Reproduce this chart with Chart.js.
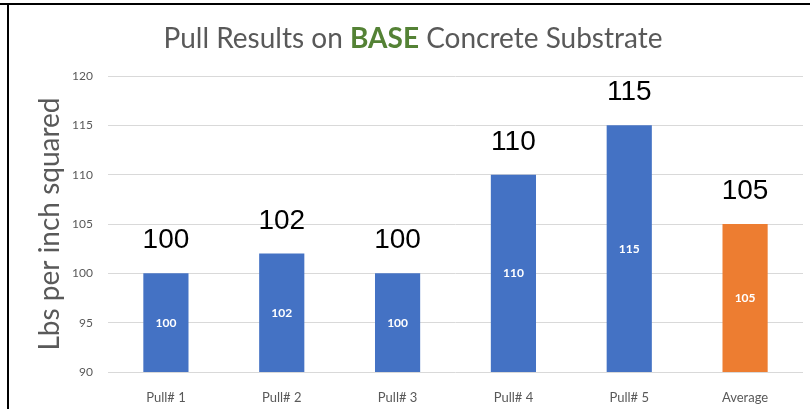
<!DOCTYPE html>
<html>
<head>
<meta charset="utf-8">
<script src="https://cdn.jsdelivr.net/npm/chart.js@4/dist/chart.umd.min.js"></script>
<style>
  html, body { margin: 0; padding: 0; background: #fff; }
  #wrap { width: 810px; height: 409px; position: relative; }
</style>
</head>
<body>
<div id="wrap"><canvas id="pullChart"></canvas></div>
<script>
const categories = ["Pull# 1", "Pull# 2", "Pull# 3", "Pull# 4", "Pull# 5", "Average"];
const pullValues = [100, 102, 100, 110, 115, 105];
const barColors = ["#4472c4", "#4472c4", "#4472c4", "#4472c4", "#4472c4", "#ed7d31"];
const yTicks = [90, 95, 100, 105, 110, 115, 120];

const titleParts = [
  { text: "Pull Results on ", color: "#595959", weight: "normal" },
  { text: "BASE", color: "#548235", weight: "bold" },
  { text: " Concrete Substrate", color: "#595959", weight: "normal" },
];
const yTitle = "Lbs per inch squared";

const gray = "#595959";
const fontFamily = "Lato, 'Open Sans', sans-serif";

// frame, title, axis title and value labels drawn on the canvas
const decorations = {
  id: "decorations",
  beforeDraw(chart) {
    const ctx = chart.ctx;
    ctx.save();
    ctx.fillStyle = "#000";
    ctx.fillRect(0, 3, chart.width, 2);
    ctx.fillRect(7, 3, 2, chart.height - 3);
    ctx.restore();
  },
  afterDraw(chart) {
    const ctx = chart.ctx;
    const area = chart.chartArea;
    const yScale = chart.scales.y;
    ctx.save();

    // title with coloured word
    const size = 28;
    let total = 0;
    titleParts.forEach((p) => {
      ctx.font = `${p.weight} ${size}px ${fontFamily}`;
      p.w = ctx.measureText(p.text).width;
      total += p.w;
    });
    let x = 413 - total / 2;
    ctx.textBaseline = "alphabetic";
    ctx.textAlign = "left";
    titleParts.forEach((p) => {
      ctx.font = `${p.weight} ${size}px ${fontFamily}`;
      ctx.fillStyle = p.color;
      ctx.fillText(p.text, x, 48);
      x += p.w;
    });

    // y axis title
    ctx.save();
    ctx.translate(50, (area.top + area.bottom) / 2);
    ctx.rotate(-Math.PI / 2);
    ctx.font = `normal 28px ${fontFamily}`;
    ctx.fillStyle = gray;
    ctx.textAlign = "center";
    ctx.textBaseline = "middle";
    ctx.fillText(yTitle, 0, 0);
    ctx.restore();

    // labels: large above each bar, small white inside
    const base = yScale.getPixelForValue(yTicks[0]);
    const meta = chart.getDatasetMeta(0);
    meta.data.forEach((bar, i) => {
      const v = pullValues[i];
      const top = yScale.getPixelForValue(v);
      ctx.font = "normal 28px 'Liberation Sans', Arial, sans-serif";
      ctx.fillStyle = "#000";
      ctx.textAlign = "center";
      ctx.textBaseline = "alphabetic";
      ctx.fillText(String(v), bar.x, top - 25);

      ctx.font = `bold 12px ${fontFamily}`;
      ctx.fillStyle = "#ffffff";
      ctx.textBaseline = "middle";
      ctx.fillText(String(v), bar.x, (top + base) / 2);
    });
    ctx.restore();
  },
};

new Chart(document.getElementById("pullChart"), {
  type: "bar",
  data: {
    labels: categories,
    datasets: [
      {
        data: pullValues,
        backgroundColor: barColors,
        borderWidth: 0,
        barPercentage: 0.39,
        categoryPercentage: 1,
      },
    ],
  },
  options: {
    responsive: true,
    maintainAspectRatio: false,
    animation: false,
    layout: { padding: { top: 76, right: 7, left: 0, bottom: 0 } },
    plugins: {
      legend: { display: false },
      tooltip: { enabled: false },
    },
    scales: {
      x: {
        grid: { display: false },
        border: { display: false },
        ticks: {
          color: gray,
          font: { family: fontFamily, size: 13 },
          padding: 10,
        },
        afterFit: (s) => { s.height = 37; },
      },
      y: {
        min: yTicks[0],
        max: yTicks[yTicks.length - 1],
        afterBuildTicks: (s) => { s.ticks = yTicks.map((v) => ({ value: v })); },
        grid: { color: "#d9d9d9", lineWidth: 1, drawTicks: false },
        border: { display: false },
        ticks: {
          color: gray,
          font: { family: fontFamily, size: 12 },
          padding: 15,
        },
        afterFit: (s) => { s.width = 108; },
      },
    },
  },
  plugins: [decorations],
});
</script>
</body>
</html>
